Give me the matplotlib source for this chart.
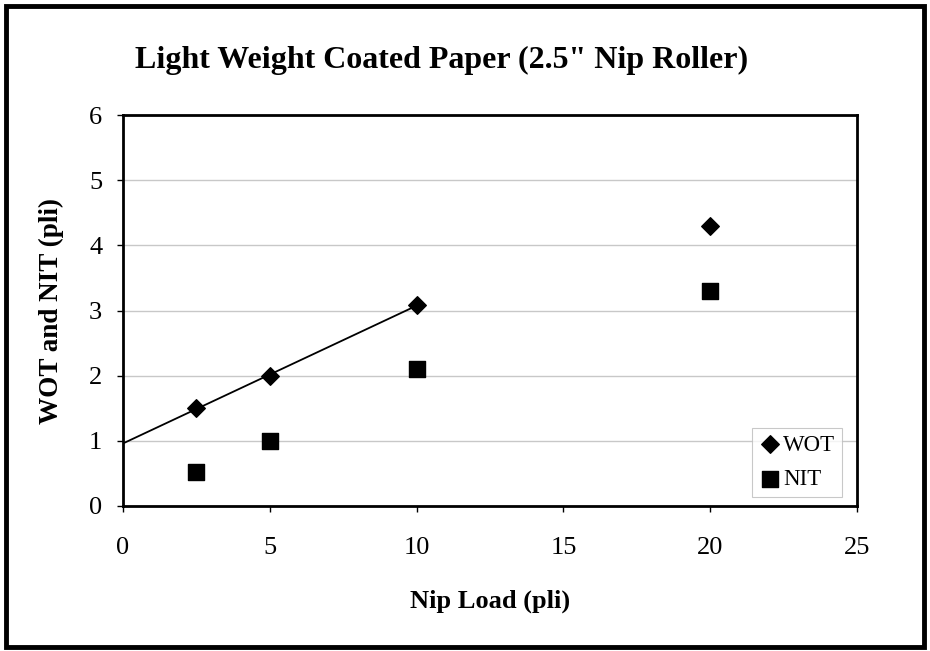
import matplotlib
matplotlib.use('Agg')
import matplotlib.pyplot as plt
from matplotlib.patches import Rectangle
import numpy as np

# data
nip_load = [2.5, 5, 10, 20]
wot = [1.5, 2.0, 3.08, 4.3]
nit = [0.52, 1.0, 2.1, 3.3]
x_ticks = [0, 5, 10, 15, 20, 25]
y_ticks = [0, 1, 2, 3, 4, 5, 6]

plt.rcParams['font.family'] = ['Liberation Serif', 'DejaVu Serif']

fig = plt.figure(figsize=(9.3, 6.51), dpi=100)
ax = fig.add_axes([123 / 930, 1 - 506 / 651, (857 - 123) / 930, (506 - 115) / 651])

ax.scatter(nip_load, wot, marker='D', s=80, color='black', zorder=3, label='WOT')
ax.scatter(nip_load, nit, marker='s', s=140, color='black', zorder=3, label='NIT')

# linear trend through the first three WOT points
slope, icept = np.polyfit(nip_load[:3], wot[:3], 1)
xs = np.array([0, nip_load[2]])
ax.plot(xs, icept + slope * xs, color='black', lw=1.3, zorder=2)

ax.set_xlim(0, 25)
ax.set_ylim(0, 6)
ax.set_xticks(x_ticks)
ax.set_yticks(y_ticks)
ax.tick_params(direction='out', length=4, width=1, labelsize=19)
ax.tick_params(axis='x', pad=18)
ax.tick_params(axis='y', pad=11)
ax.yaxis.grid(True, color='#c8c8c8', lw=1)
ax.set_axisbelow(True)
for sp in ax.spines.values():
    sp.set_linewidth(2)

ax.set_xlabel('Nip Load (pli)', fontsize=19, fontweight='bold', labelpad=22)
ax.set_ylabel('WOT and NIT (pli)', fontsize=19.5, fontweight='bold', labelpad=18)
fig.text(442 / 930, 1 - 60 / 651, 'Light Weight Coated Paper (2.5" Nip Roller)',
         ha='center', va='center', fontsize=23, fontweight='bold')

leg = ax.legend(loc='lower right', bbox_to_anchor=(0.989, 0.005), fontsize=16.5,
                frameon=True, fancybox=False, handletextpad=0.05,
                handlelength=1.0, borderpad=0.3, labelspacing=0.6,
                borderaxespad=0.3)
leg.get_frame().set_edgecolor('#bbbbbb')
leg.get_frame().set_linewidth(0.8)

fig.patches.append(Rectangle((0.006, 0.006), 0.988, 0.985, transform=fig.transFigure,
                             fill=False, edgecolor='black', lw=3.5))

fig.savefig('out.png', dpi=100)
